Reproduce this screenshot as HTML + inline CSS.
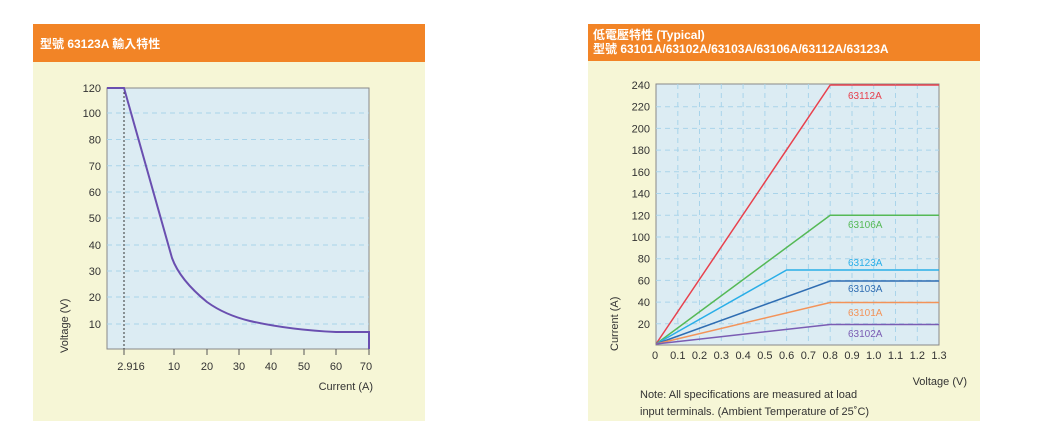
<!DOCTYPE html>
<html><head><meta charset="utf-8"><style>
body{margin:0;background:#fff;}
svg{display:block;font-family:"Liberation Sans","Noto Sans CJK TC",sans-serif;}
</style></head><body>
<svg width="1048" height="436" viewBox="0 0 1048 436" xmlns="http://www.w3.org/2000/svg">
<!-- Left panel -->
<rect x="33" y="24" width="392" height="397" fill="#f6f6d6"/>
<rect x="33" y="24" width="392" height="38" fill="#f28426"/>
<text x="40" y="48" font-size="12" font-weight="bold" fill="#fff">型號 63123A 輸入特性</text>
<rect x="107" y="88" width="262" height="261" fill="#dcecf3" stroke="#888" stroke-width="1"/>
<g stroke="#a9d4ea" stroke-dasharray="5,4" stroke-width="1">
<line x1="107" x2="369" y1="113" y2="113"/><line x1="107" x2="369" y1="139.5" y2="139.5"/>
<line x1="107" x2="369" y1="165.7" y2="165.7"/><line x1="107" x2="369" y1="192" y2="192"/>
<line x1="107" x2="369" y1="218" y2="218"/><line x1="107" x2="369" y1="245" y2="245"/>
<line x1="107" x2="369" y1="271" y2="271"/><line x1="107" x2="369" y1="297" y2="297"/>
<line x1="107" x2="369" y1="324" y2="324"/>
</g>
<line x1="124" y1="88" x2="124" y2="349" stroke="#333" stroke-dasharray="2,2" stroke-width="1"/>
<g stroke="#555" stroke-width="1">
<line x1="124" x2="124" y1="349" y2="355"/><line x1="174" x2="174" y1="349" y2="355"/>
<line x1="207" x2="207" y1="349" y2="355"/><line x1="239" x2="239" y1="349" y2="355"/>
<line x1="271" x2="271" y1="349" y2="355"/><line x1="304" x2="304" y1="349" y2="355"/>
<line x1="336" x2="336" y1="349" y2="355"/><line x1="369" x2="369" y1="349" y2="355"/>
</g>
<path d="M107,88 L124,88 L172,258 Q180,280 207,302 Q225,315 250,321 Q290,330 336,332 L369,332 L369,349" fill="none" stroke="#6a4fb0" stroke-width="2"/>
<g font-size="11" fill="#333" text-anchor="end">
<text x="101" y="92">120</text><text x="101" y="117">100</text><text x="101" y="143.5">80</text>
<text x="101" y="170">70</text><text x="101" y="196">60</text><text x="101" y="222">50</text>
<text x="101" y="249">40</text><text x="101" y="275">30</text><text x="101" y="301">20</text>
<text x="101" y="328">10</text>
</g>
<g font-size="11" fill="#333" text-anchor="middle">
<text x="131" y="370">2.916</text><text x="174" y="370">10</text><text x="207" y="370">20</text>
<text x="239" y="370">30</text><text x="271" y="370">40</text><text x="304" y="370">50</text>
<text x="336" y="370">60</text><text x="366" y="370">70</text>
</g>
<text x="373" y="390" font-size="11" fill="#333" text-anchor="end">Current (A)</text>
<text transform="translate(68,353) rotate(-90)" font-size="11" fill="#333">Voltage (V)</text>

<!-- Right panel -->
<rect x="588" y="24" width="392" height="397" fill="#f6f6d6"/>
<rect x="588" y="24" width="392" height="37" fill="#f28426"/>
<text x="593" y="39" font-size="12" font-weight="bold" fill="#fff">低電壓特性 (Typical)</text>
<text x="593" y="53" font-size="12" font-weight="bold" fill="#fff">型號 63101A/63102A/63103A/63106A/63112A/63123A</text>
<rect x="656" y="84" width="283" height="261" fill="#dcecf3" stroke="#888" stroke-width="1"/>
<g stroke="#a9d4ea" stroke-dasharray="5,4" stroke-width="1">
<line x1="656" x2="939" y1="106.7" y2="106.7"/><line x1="656" x2="939" y1="128.4" y2="128.4"/>
<line x1="656" x2="939" y1="150.1" y2="150.1"/><line x1="656" x2="939" y1="171.8" y2="171.8"/>
<line x1="656" x2="939" y1="193.5" y2="193.5"/><line x1="656" x2="939" y1="215.3" y2="215.3"/>
<line x1="656" x2="939" y1="237" y2="237"/><line x1="656" x2="939" y1="258.7" y2="258.7"/>
<line x1="656" x2="939" y1="280.4" y2="280.4"/><line x1="656" x2="939" y1="302.1" y2="302.1"/>
<line x1="656" x2="939" y1="323.8" y2="323.8"/>
<line y1="84" y2="345" x1="677.8" x2="677.8"/><line y1="84" y2="345" x1="699.5" x2="699.5"/>
<line y1="84" y2="345" x1="721.3" x2="721.3"/><line y1="84" y2="345" x1="743.1" x2="743.1"/>
<line y1="84" y2="345" x1="764.9" x2="764.9"/><line y1="84" y2="345" x1="786.6" x2="786.6"/>
<line y1="84" y2="345" x1="808.4" x2="808.4"/><line y1="84" y2="345" x1="830.2" x2="830.2"/>
<line y1="84" y2="345" x1="852" x2="852"/><line y1="84" y2="345" x1="873.7" x2="873.7"/>
<line y1="84" y2="345" x1="895.5" x2="895.5"/><line y1="84" y2="345" x1="917.3" x2="917.3"/>
</g>
<g fill="none" stroke-width="1.5">
<polyline points="656,344 830.2,85 939,85" stroke="#e8414d"/>
<polyline points="656,344 830.2,215.3 939,215.3" stroke="#55b956"/>
<polyline points="656,344 786.6,270 939,270" stroke="#29aee8"/>
<polyline points="656,344 830.2,281 939,281" stroke="#2f6db2"/>
<polyline points="656,344 830.2,302.5 939,302.5" stroke="#f39359"/>
<polyline points="656,344 830.2,324.5 939,324.5" stroke="#7a5cb3"/>
</g>
<g font-size="10" text-anchor="start">
<text x="848" y="99" fill="#e8414d">63112A</text>
<text x="848" y="228" fill="#55b956">63106A</text>
<text x="848" y="266" fill="#29aee8">63123A</text>
<text x="848" y="292" fill="#2f6db2">63103A</text>
<text x="848" y="316" fill="#f39359">63101A</text>
<text x="848" y="337" fill="#7a5cb3">63102A</text>
</g>
<g font-size="11" fill="#333" text-anchor="end">
<text x="650" y="89">240</text><text x="650" y="110.7">220</text><text x="650" y="132.4">200</text>
<text x="650" y="154.1">180</text><text x="650" y="175.8">160</text><text x="650" y="197.5">140</text>
<text x="650" y="219.3">120</text><text x="650" y="241">100</text><text x="650" y="262.7">80</text>
<text x="650" y="284.4">60</text><text x="650" y="306.1">40</text><text x="650" y="327.8">20</text>
</g>
<g font-size="11" fill="#333" text-anchor="middle">
<text x="655" y="359">0</text><text x="677.8" y="359">0.1</text><text x="699.5" y="359">0.2</text>
<text x="721.3" y="359">0.3</text><text x="743.1" y="359">0.4</text><text x="764.9" y="359">0.5</text>
<text x="786.6" y="359">0.6</text><text x="808.4" y="359">0.7</text><text x="830.2" y="359">0.8</text>
<text x="852" y="359">0.9</text><text x="873.7" y="359">1.0</text><text x="895.5" y="359">1.1</text>
<text x="917.3" y="359">1.2</text><text x="939" y="359">1.3</text>
</g>
<text x="967" y="385" font-size="11" fill="#333" text-anchor="end">Voltage (V)</text>
<text transform="translate(618,351) rotate(-90)" font-size="11" fill="#333">Current (A)</text>
<text x="640" y="398" font-size="11" fill="#333">Note: All specifications are measured at load</text>
<text x="640" y="415" font-size="11" fill="#333">input terminals. (Ambient Temperature of 25˚C)</text>
</svg>
</body></html>
